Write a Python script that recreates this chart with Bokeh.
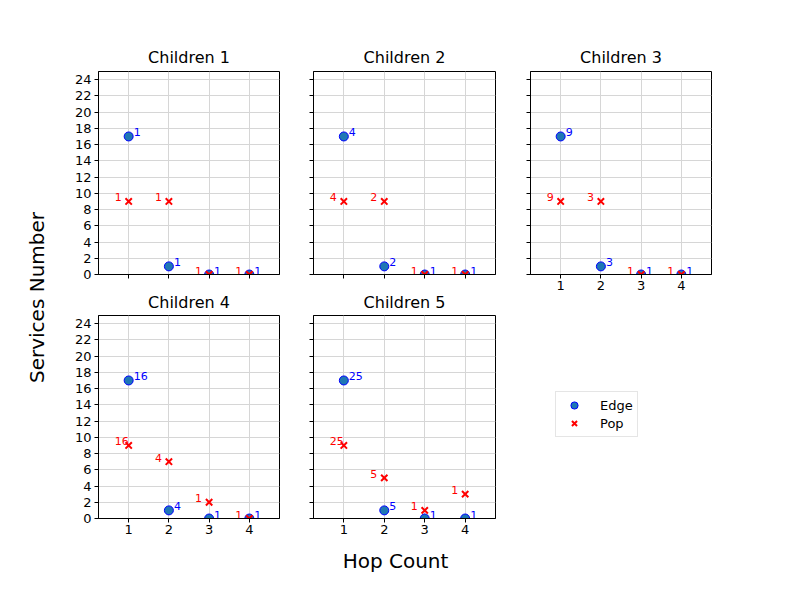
import math
from bokeh.plotting import figure
from bokeh.layouts import row, column
from bokeh.models import (Range1d, FixedTicker, Title, ColumnDataSource,
                          Legend, LegendItem)
from bokeh.core.properties import value
from bokeh.embed import file_html
from bokeh.resources import INLINE

# ---------------- data ----------------
titles = ["Children 1", "Children 2", "Children 3", "Children 4", "Children 5"]
hops = [1, 2, 3, 4]
edge_values = [[17, 1, 0, 0], [17, 1, 0, 0], [17, 1, 0, 0], [17, 1, 0, 0], [17, 1, 0, 0]]
pop_values = [[9, 9, 0, 0], [9, 9, 0, 0], [9, 9, 0, 0], [9, 7, 2, 0], [9, 5, 1, 3]]
edge_labels = [["1", "1", "1", "1"], ["4", "2", "1", "1"], ["9", "3", "1", "1"],
               ["16", "4", "1", "1"], ["25", "5", "1", "1"]]
pop_labels = [["1", "1", "1", "1"], ["4", "2", "1", "1"], ["9", "3", "1", "1"],
              ["16", "4", "1", "1"], ["25", "5", "1", "1"]]
y_ticks = list(range(0, 25, 2))
x_ticks = [1, 2, 3, 4]
legend_names = ["Edge", "Pop"]
x_label = "Hop Count"
y_label = "Services Number"

FONT = "DejaVu Sans"
EDGE_FILL = "#1f77b4"
EDGE_LINE = "blue"
POP_COLOR = "red"

# ---------------- geometry ----------------
LEFT_W = 58
COL_W = [238, 216, 209]
COL_BL = [40, 17, 18]
COL_BR = [17, 17, 10]
FRAME_H = 203
TOP1 = 71
BOTTOM_H = 46


def make_panel(i, r, c, border_top, border_bottom, title_standoff, show_x_labels):
    p = figure(width=COL_W[c], height=border_top + FRAME_H + border_bottom,
               min_border_left=COL_BL[c], min_border_right=COL_BR[c],
               min_border_top=border_top, min_border_bottom=border_bottom,
               x_range=Range1d(0.25, 4.75), y_range=Range1d(0, 25),
               toolbar_location=None, output_backend="svg",
               background_fill_color="white", border_fill_color="white")
    p.outline_line_color = "black"
    p.outline_line_width = 1
    p.add_layout(Title(text=titles[i], align="center", text_font=FONT,
                       text_font_size="16px", text_font_style="normal",
                       text_color="black", standoff=title_standoff), "above")

    p.xaxis.ticker = FixedTicker(ticks=x_ticks)
    p.yaxis.ticker = FixedTicker(ticks=y_ticks)
    for ax in (p.xaxis[0], p.yaxis[0]):
        ax.axis_line_color = "black"
        ax.major_tick_line_color = "black"
        ax.major_tick_out = 4
        ax.major_tick_in = 0
        ax.minor_tick_line_color = None
        ax.major_label_text_font = FONT
        ax.major_label_text_font_size = "13px"
        ax.major_label_text_color = "black"
    p.xaxis.major_label_standoff = 2
    p.yaxis.major_label_standoff = 3
    if c != 0:
        p.yaxis.major_label_overrides = {t_: "" for t_ in y_ticks}
    if not show_x_labels:
        p.xaxis.major_label_overrides = {t_: "" for t_ in x_ticks}

    p.xgrid.ticker = FixedTicker(ticks=x_ticks)
    p.ygrid.ticker = FixedTicker(ticks=y_ticks)
    p.grid.grid_line_color = "#d6d6d6"
    p.grid.grid_line_width = 1

    src = ColumnDataSource(dict(x=hops, edge=edge_values[i], pop=pop_values[i],
                                el=edge_labels[i], pl=pop_labels[i]))
    p.scatter("x", "edge", source=src, marker="circle", size=9,
              fill_color=EDGE_FILL, line_color=EDGE_LINE, line_width=1)
    p.scatter("x", "pop", source=src, marker="x", size=9,
              line_color=POP_COLOR, line_width=2)
    p.text("x", "edge", text="el", source=src, x_offset=5, y_offset=-4,
           text_font=value(FONT), text_font_size="11px", text_color="blue",
           text_align="left", text_baseline="alphabetic")
    p.text("x", "pop", text="pl", source=src, x_offset=-14, y_offset=-4,
           text_font=value(FONT), text_font_size="11px", text_color="red",
           text_align="left", text_baseline="alphabetic")
    return p


# first row: titles above; second row: titles in a 30px top border
p1 = make_panel(0, 0, 0, TOP1, 11, 9, False)
p2 = make_panel(1, 0, 1, TOP1, 11, 9, False)
p3 = make_panel(2, 0, 2, TOP1, 24, 9, True)
p4 = make_panel(3, 1, 0, 30, 24, 8, True)
p5 = make_panel(4, 1, 1, 30, 24, 8, True)
grid_h = TOP1 + FRAME_H + 11 + 30 + FRAME_H + 24

# legend panel (empty sixth cell)
lg_h = grid_h - (TOP1 + FRAME_H + 24)
lg = figure(width=COL_W[2], height=lg_h, x_range=Range1d(0, 1), y_range=Range1d(0, 1),
            x_axis_type=None, y_axis_type=None, toolbar_location=None,
            output_backend="svg", min_border=0, outline_line_color=None)
lg.grid.visible = False
r_edge = lg.scatter(x=[5], y=[5], marker="circle", size=9,
                    fill_color=EDGE_FILL, line_color=EDGE_LINE, line_width=1)
r_pop = lg.scatter(x=[5], y=[5], marker="x", size=9, line_color=POP_COLOR, line_width=2)
legend = Legend(items=[LegendItem(label=legend_names[0], renderers=[r_edge]),
                       LegendItem(label=legend_names[1], renderers=[r_pop])],
                location=(25, 105), margin=0, padding=4, spacing=0,
                glyph_width=28, glyph_height=18, label_height=18, label_standoff=12,
                label_text_font=FONT, label_text_font_size="13px", label_text_color="black",
                border_line_color="#cccccc", border_line_width=1,
                background_fill_color="white", background_fill_alpha=0.9)
lg.add_layout(legend, "center")

# left label figure
total_h = grid_h + BOTTOM_H
left = figure(width=LEFT_W, height=total_h, x_range=Range1d(0, LEFT_W), y_range=Range1d(0, total_h),
              x_axis_type=None, y_axis_type=None, toolbar_location=None,
              output_backend="svg", min_border=0, outline_line_color=None)
left.grid.visible = False
left.text(x=[36], y=[total_h - 297], text=[y_label], angle=math.pi / 2,
          text_font=value(FONT), text_font_size="20px", text_color="black",
          text_align="center", text_baseline="middle")

# bottom label figure
bw = sum(COL_W)
bottom = figure(width=bw, height=BOTTOM_H, x_range=Range1d(0, bw), y_range=Range1d(0, BOTTOM_H),
                x_axis_type=None, y_axis_type=None, toolbar_location=None,
                output_backend="svg", min_border=0, outline_line_color=None)
bottom.grid.visible = False
bottom.text(x=[395 - LEFT_W], y=[BOTTOM_H - 18], text=[x_label],
            text_font=value(FONT), text_font_size="20px", text_color="black",
            text_align="center", text_baseline="middle")

layout = row(left, column(row(column(p1, p4), column(p2, p5), column(p3, lg)),
                          bottom))

open("out.html", "w").write(file_html(layout, INLINE))
